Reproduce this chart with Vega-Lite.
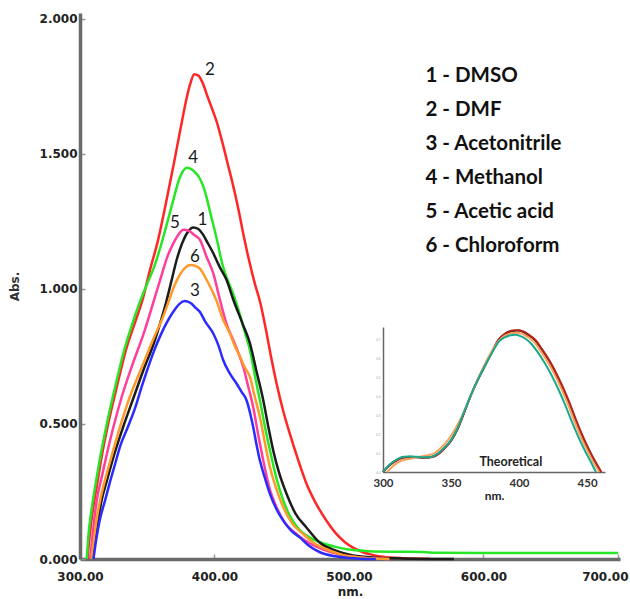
{
  "$schema": "https://vega.github.io/schema/vega-lite/v6.json",
  "width": 540,
  "height": 546,
  "autosize": {"type": "none"},
  "padding": {"left": 80, "top": 13, "right": 10, "bottom": 40},
  "background": "white",
  "config": {"view": {"stroke": null}, "axis": {"grid": false}},
  "datasets": {
    "spectra": [
      {"solvent": "2 - DMF", "nm": 305.5, "abs": 0}, {"solvent": "2 - DMF", "nm": 307.5, "abs": 0.1}, {"solvent": "2 - DMF", "nm": 309.5, "abs": 0.18}, {"solvent": "2 - DMF", "nm": 312.5, "abs": 0.27}, {"solvent": "2 - DMF", "nm": 316.5, "abs": 0.39}, {"solvent": "2 - DMF", "nm": 320.5, "abs": 0.49}, {"solvent": "2 - DMF", "nm": 327.5, "abs": 0.64}, {"solvent": "2 - DMF", "nm": 334.5, "abs": 0.78}, {"solvent": "2 - DMF", "nm": 340.5, "abs": 0.87}, {"solvent": "2 - DMF", "nm": 346.5, "abs": 0.96}, {"solvent": "2 - DMF", "nm": 352, "abs": 1.07}, {"solvent": "2 - DMF", "nm": 358, "abs": 1.18}, {"solvent": "2 - DMF", "nm": 364, "abs": 1.32}, {"solvent": "2 - DMF", "nm": 370, "abs": 1.47}, {"solvent": "2 - DMF", "nm": 375, "abs": 1.6}, {"solvent": "2 - DMF", "nm": 379, "abs": 1.7}, {"solvent": "2 - DMF", "nm": 382, "abs": 1.76}, {"solvent": "2 - DMF", "nm": 385, "abs": 1.795}, {"solvent": "2 - DMF", "nm": 388, "abs": 1.79}, {"solvent": "2 - DMF", "nm": 391, "abs": 1.765}, {"solvent": "2 - DMF", "nm": 395, "abs": 1.71}, {"solvent": "2 - DMF", "nm": 398, "abs": 1.67}, {"solvent": "2 - DMF", "nm": 401.6, "abs": 1.62}, {"solvent": "2 - DMF", "nm": 406, "abs": 1.54}, {"solvent": "2 - DMF", "nm": 410, "abs": 1.46}, {"solvent": "2 - DMF", "nm": 414, "abs": 1.38}, {"solvent": "2 - DMF", "nm": 418, "abs": 1.29}, {"solvent": "2 - DMF", "nm": 422, "abs": 1.19}, {"solvent": "2 - DMF", "nm": 426, "abs": 1.1}, {"solvent": "2 - DMF", "nm": 430, "abs": 1.02}, {"solvent": "2 - DMF", "nm": 434, "abs": 0.95}, {"solvent": "2 - DMF", "nm": 438.8, "abs": 0.835}, {"solvent": "2 - DMF", "nm": 442, "abs": 0.75}, {"solvent": "2 - DMF", "nm": 446.2, "abs": 0.649}, {"solvent": "2 - DMF", "nm": 451, "abs": 0.55}, {"solvent": "2 - DMF", "nm": 456, "abs": 0.464}, {"solvent": "2 - DMF", "nm": 462, "abs": 0.37}, {"solvent": "2 - DMF", "nm": 468.5, "abs": 0.278}, {"solvent": "2 - DMF", "nm": 475, "abs": 0.21}, {"solvent": "2 - DMF", "nm": 483.4, "abs": 0.141}, {"solvent": "2 - DMF", "nm": 490.8, "abs": 0.092}, {"solvent": "2 - DMF", "nm": 497, "abs": 0.062}, {"solvent": "2 - DMF", "nm": 503, "abs": 0.042}, {"solvent": "2 - DMF", "nm": 510, "abs": 0.026}, {"solvent": "2 - DMF", "nm": 516, "abs": 0.017}, {"solvent": "2 - DMF", "nm": 525, "abs": 0.008}, {"solvent": "2 - DMF", "nm": 540, "abs": 0.003}, {"solvent": "2 - DMF", "nm": 560, "abs": 0.001},

      {"solvent": "4 - Methanol", "nm": 305, "abs": 0}, {"solvent": "4 - Methanol", "nm": 306.5, "abs": 0.1}, {"solvent": "4 - Methanol", "nm": 308.5, "abs": 0.18}, {"solvent": "4 - Methanol", "nm": 311.5, "abs": 0.275}, {"solvent": "4 - Methanol", "nm": 315.5, "abs": 0.39}, {"solvent": "4 - Methanol", "nm": 319.5, "abs": 0.49}, {"solvent": "4 - Methanol", "nm": 326.5, "abs": 0.645}, {"solvent": "4 - Methanol", "nm": 333.5, "abs": 0.785}, {"solvent": "4 - Methanol", "nm": 339.5, "abs": 0.88}, {"solvent": "4 - Methanol", "nm": 345.5, "abs": 0.965}, {"solvent": "4 - Methanol", "nm": 350, "abs": 1.02}, {"solvent": "4 - Methanol", "nm": 355, "abs": 1.08}, {"solvent": "4 - Methanol", "nm": 359.5, "abs": 1.15}, {"solvent": "4 - Methanol", "nm": 364, "abs": 1.23}, {"solvent": "4 - Methanol", "nm": 369.4, "abs": 1.33}, {"solvent": "4 - Methanol", "nm": 374, "abs": 1.41}, {"solvent": "4 - Methanol", "nm": 377, "abs": 1.44}, {"solvent": "4 - Methanol", "nm": 379.5, "abs": 1.449}, {"solvent": "4 - Methanol", "nm": 382, "abs": 1.446}, {"solvent": "4 - Methanol", "nm": 386, "abs": 1.43}, {"solvent": "4 - Methanol", "nm": 389, "abs": 1.41}, {"solvent": "4 - Methanol", "nm": 393, "abs": 1.36}, {"solvent": "4 - Methanol", "nm": 397, "abs": 1.28}, {"solvent": "4 - Methanol", "nm": 401, "abs": 1.2}, {"solvent": "4 - Methanol", "nm": 406.5, "abs": 1.08}, {"solvent": "4 - Methanol", "nm": 410, "abs": 1.03}, {"solvent": "4 - Methanol", "nm": 414, "abs": 0.98}, {"solvent": "4 - Methanol", "nm": 418, "abs": 0.92}, {"solvent": "4 - Methanol", "nm": 422, "abs": 0.85}, {"solvent": "4 - Methanol", "nm": 426.4, "abs": 0.773}, {"solvent": "4 - Methanol", "nm": 430, "abs": 0.68}, {"solvent": "4 - Methanol", "nm": 433.8, "abs": 0.587}, {"solvent": "4 - Methanol", "nm": 437.5, "abs": 0.49}, {"solvent": "4 - Methanol", "nm": 441.3, "abs": 0.401}, {"solvent": "4 - Methanol", "nm": 446, "abs": 0.3}, {"solvent": "4 - Methanol", "nm": 451.2, "abs": 0.216}, {"solvent": "4 - Methanol", "nm": 456, "abs": 0.16}, {"solvent": "4 - Methanol", "nm": 462, "abs": 0.115}, {"solvent": "4 - Methanol", "nm": 471, "abs": 0.079}, {"solvent": "4 - Methanol", "nm": 478.4, "abs": 0.062}, {"solvent": "4 - Methanol", "nm": 490, "abs": 0.045}, {"solvent": "4 - Methanol", "nm": 503, "abs": 0.033}, {"solvent": "4 - Methanol", "nm": 515, "abs": 0.029}, {"solvent": "4 - Methanol", "nm": 535, "abs": 0.027}, {"solvent": "4 - Methanol", "nm": 555, "abs": 0.026}, {"solvent": "4 - Methanol", "nm": 565, "abs": 0.023}, {"solvent": "4 - Methanol", "nm": 600, "abs": 0.022}, {"solvent": "4 - Methanol", "nm": 650, "abs": 0.022}, {"solvent": "4 - Methanol", "nm": 700, "abs": 0.022},

      {"solvent": "1 - DMSO", "nm": 309.5, "abs": 0}, {"solvent": "1 - DMSO", "nm": 311.5, "abs": 0.08}, {"solvent": "1 - DMSO", "nm": 314, "abs": 0.16}, {"solvent": "1 - DMSO", "nm": 316, "abs": 0.216}, {"solvent": "1 - DMSO", "nm": 320, "abs": 0.29}, {"solvent": "1 - DMSO", "nm": 325, "abs": 0.38}, {"solvent": "1 - DMSO", "nm": 332, "abs": 0.488}, {"solvent": "1 - DMSO", "nm": 340, "abs": 0.6}, {"solvent": "1 - DMSO", "nm": 348, "abs": 0.711}, {"solvent": "1 - DMSO", "nm": 355, "abs": 0.8}, {"solvent": "1 - DMSO", "nm": 360, "abs": 0.88}, {"solvent": "1 - DMSO", "nm": 364, "abs": 0.95}, {"solvent": "1 - DMSO", "nm": 368, "abs": 1.03}, {"solvent": "1 - DMSO", "nm": 372, "abs": 1.11}, {"solvent": "1 - DMSO", "nm": 376, "abs": 1.17}, {"solvent": "1 - DMSO", "nm": 380, "abs": 1.21}, {"solvent": "1 - DMSO", "nm": 384.3, "abs": 1.228}, {"solvent": "1 - DMSO", "nm": 388, "abs": 1.222}, {"solvent": "1 - DMSO", "nm": 391, "abs": 1.205}, {"solvent": "1 - DMSO", "nm": 395, "abs": 1.17}, {"solvent": "1 - DMSO", "nm": 399, "abs": 1.133}, {"solvent": "1 - DMSO", "nm": 404, "abs": 1.08}, {"solvent": "1 - DMSO", "nm": 409, "abs": 1.033}, {"solvent": "1 - DMSO", "nm": 414, "abs": 0.96}, {"solvent": "1 - DMSO", "nm": 421, "abs": 0.87}, {"solvent": "1 - DMSO", "nm": 426.4, "abs": 0.798}, {"solvent": "1 - DMSO", "nm": 431, "abs": 0.7}, {"solvent": "1 - DMSO", "nm": 436.3, "abs": 0.587}, {"solvent": "1 - DMSO", "nm": 440, "abs": 0.49}, {"solvent": "1 - DMSO", "nm": 443.7, "abs": 0.401}, {"solvent": "1 - DMSO", "nm": 448, "abs": 0.32}, {"solvent": "1 - DMSO", "nm": 453.7, "abs": 0.24}, {"solvent": "1 - DMSO", "nm": 460, "abs": 0.17}, {"solvent": "1 - DMSO", "nm": 468.5, "abs": 0.116}, {"solvent": "1 - DMSO", "nm": 478.4, "abs": 0.06}, {"solvent": "1 - DMSO", "nm": 490.8, "abs": 0.03}, {"solvent": "1 - DMSO", "nm": 503, "abs": 0.013}, {"solvent": "1 - DMSO", "nm": 520, "abs": 0.005}, {"solvent": "1 - DMSO", "nm": 540, "abs": 0.002}, {"solvent": "1 - DMSO", "nm": 578, "abs": 0},

      {"solvent": "5 - Acetic acid", "nm": 307.5, "abs": 0}, {"solvent": "5 - Acetic acid", "nm": 309, "abs": 0.07}, {"solvent": "5 - Acetic acid", "nm": 310.5, "abs": 0.14}, {"solvent": "5 - Acetic acid", "nm": 312.4, "abs": 0.216}, {"solvent": "5 - Acetic acid", "nm": 316, "abs": 0.3}, {"solvent": "5 - Acetic acid", "nm": 320, "abs": 0.39}, {"solvent": "5 - Acetic acid", "nm": 324.8, "abs": 0.488}, {"solvent": "5 - Acetic acid", "nm": 331, "abs": 0.6}, {"solvent": "5 - Acetic acid", "nm": 339, "abs": 0.72}, {"solvent": "5 - Acetic acid", "nm": 347, "abs": 0.83}, {"solvent": "5 - Acetic acid", "nm": 354.5, "abs": 0.95}, {"solvent": "5 - Acetic acid", "nm": 360, "abs": 1.04}, {"solvent": "5 - Acetic acid", "nm": 365, "abs": 1.12}, {"solvent": "5 - Acetic acid", "nm": 369.5, "abs": 1.17}, {"solvent": "5 - Acetic acid", "nm": 373, "abs": 1.2}, {"solvent": "5 - Acetic acid", "nm": 377, "abs": 1.219}, {"solvent": "5 - Acetic acid", "nm": 381, "abs": 1.215}, {"solvent": "5 - Acetic acid", "nm": 385, "abs": 1.2}, {"solvent": "5 - Acetic acid", "nm": 389.2, "abs": 1.182}, {"solvent": "5 - Acetic acid", "nm": 394, "abs": 1.12}, {"solvent": "5 - Acetic acid", "nm": 399.1, "abs": 1.058}, {"solvent": "5 - Acetic acid", "nm": 404.1, "abs": 0.959}, {"solvent": "5 - Acetic acid", "nm": 409, "abs": 0.87}, {"solvent": "5 - Acetic acid", "nm": 414, "abs": 0.81}, {"solvent": "5 - Acetic acid", "nm": 418, "abs": 0.76}, {"solvent": "5 - Acetic acid", "nm": 421.4, "abs": 0.711}, {"solvent": "5 - Acetic acid", "nm": 425, "abs": 0.64}, {"solvent": "5 - Acetic acid", "nm": 428.8, "abs": 0.562}, {"solvent": "5 - Acetic acid", "nm": 432.5, "abs": 0.46}, {"solvent": "5 - Acetic acid", "nm": 436.3, "abs": 0.364}, {"solvent": "5 - Acetic acid", "nm": 441, "abs": 0.26}, {"solvent": "5 - Acetic acid", "nm": 446.2, "abs": 0.191}, {"solvent": "5 - Acetic acid", "nm": 453, "abs": 0.13}, {"solvent": "5 - Acetic acid", "nm": 461.1, "abs": 0.092}, {"solvent": "5 - Acetic acid", "nm": 470, "abs": 0.06}, {"solvent": "5 - Acetic acid", "nm": 480.9, "abs": 0.035}, {"solvent": "5 - Acetic acid", "nm": 495, "abs": 0.015}, {"solvent": "5 - Acetic acid", "nm": 510, "abs": 0.005}, {"solvent": "5 - Acetic acid", "nm": 530, "abs": 0},

      {"solvent": "6 - Chloroform", "nm": 308.5, "abs": 0}, {"solvent": "6 - Chloroform", "nm": 310.5, "abs": 0.08}, {"solvent": "6 - Chloroform", "nm": 312.5, "abs": 0.15}, {"solvent": "6 - Chloroform", "nm": 314.9, "abs": 0.216}, {"solvent": "6 - Chloroform", "nm": 319, "abs": 0.3}, {"solvent": "6 - Chloroform", "nm": 324, "abs": 0.39}, {"solvent": "6 - Chloroform", "nm": 329.7, "abs": 0.488}, {"solvent": "6 - Chloroform", "nm": 337, "abs": 0.6}, {"solvent": "6 - Chloroform", "nm": 346, "abs": 0.711}, {"solvent": "6 - Chloroform", "nm": 355, "abs": 0.82}, {"solvent": "6 - Chloroform", "nm": 362, "abs": 0.9}, {"solvent": "6 - Chloroform", "nm": 366, "abs": 0.955}, {"solvent": "6 - Chloroform", "nm": 370, "abs": 1.01}, {"solvent": "6 - Chloroform", "nm": 374, "abs": 1.05}, {"solvent": "6 - Chloroform", "nm": 378, "abs": 1.078}, {"solvent": "6 - Chloroform", "nm": 381.8, "abs": 1.089}, {"solvent": "6 - Chloroform", "nm": 385, "abs": 1.087}, {"solvent": "6 - Chloroform", "nm": 389.2, "abs": 1.075}, {"solvent": "6 - Chloroform", "nm": 394, "abs": 1.035}, {"solvent": "6 - Chloroform", "nm": 399.1, "abs": 0.984}, {"solvent": "6 - Chloroform", "nm": 401.6, "abs": 0.955}, {"solvent": "6 - Chloroform", "nm": 406.5, "abs": 0.885}, {"solvent": "6 - Chloroform", "nm": 411.5, "abs": 0.835}, {"solvent": "6 - Chloroform", "nm": 415, "abs": 0.79}, {"solvent": "6 - Chloroform", "nm": 419, "abs": 0.749}, {"solvent": "6 - Chloroform", "nm": 422.5, "abs": 0.71}, {"solvent": "6 - Chloroform", "nm": 426.4, "abs": 0.674}, {"solvent": "6 - Chloroform", "nm": 430, "abs": 0.6}, {"solvent": "6 - Chloroform", "nm": 433.8, "abs": 0.525}, {"solvent": "6 - Chloroform", "nm": 437.5, "abs": 0.43}, {"solvent": "6 - Chloroform", "nm": 441.3, "abs": 0.339}, {"solvent": "6 - Chloroform", "nm": 446, "abs": 0.26}, {"solvent": "6 - Chloroform", "nm": 451.2, "abs": 0.191}, {"solvent": "6 - Chloroform", "nm": 458, "abs": 0.13}, {"solvent": "6 - Chloroform", "nm": 466, "abs": 0.092}, {"solvent": "6 - Chloroform", "nm": 475, "abs": 0.055}, {"solvent": "6 - Chloroform", "nm": 483.4, "abs": 0.036}, {"solvent": "6 - Chloroform", "nm": 495, "abs": 0.015}, {"solvent": "6 - Chloroform", "nm": 510, "abs": 0.005}, {"solvent": "6 - Chloroform", "nm": 530, "abs": 0},

      {"solvent": "3 - Acetonitrile", "nm": 310, "abs": 0}, {"solvent": "3 - Acetonitrile", "nm": 312, "abs": 0.07}, {"solvent": "3 - Acetonitrile", "nm": 314.5, "abs": 0.14}, {"solvent": "3 - Acetonitrile", "nm": 318.6, "abs": 0.216}, {"solvent": "3 - Acetonitrile", "nm": 322, "abs": 0.28}, {"solvent": "3 - Acetonitrile", "nm": 326, "abs": 0.35}, {"solvent": "3 - Acetonitrile", "nm": 330, "abs": 0.42}, {"solvent": "3 - Acetonitrile", "nm": 335.5, "abs": 0.488}, {"solvent": "3 - Acetonitrile", "nm": 341, "abs": 0.56}, {"solvent": "3 - Acetonitrile", "nm": 346, "abs": 0.64}, {"solvent": "3 - Acetonitrile", "nm": 350, "abs": 0.7}, {"solvent": "3 - Acetonitrile", "nm": 355, "abs": 0.77}, {"solvent": "3 - Acetonitrile", "nm": 360, "abs": 0.83}, {"solvent": "3 - Acetonitrile", "nm": 365, "abs": 0.88}, {"solvent": "3 - Acetonitrile", "nm": 370, "abs": 0.92}, {"solvent": "3 - Acetonitrile", "nm": 374, "abs": 0.945}, {"solvent": "3 - Acetonitrile", "nm": 378, "abs": 0.955}, {"solvent": "3 - Acetonitrile", "nm": 380, "abs": 0.953}, {"solvent": "3 - Acetonitrile", "nm": 383, "abs": 0.945}, {"solvent": "3 - Acetonitrile", "nm": 386, "abs": 0.93}, {"solvent": "3 - Acetonitrile", "nm": 389.2, "abs": 0.915}, {"solvent": "3 - Acetonitrile", "nm": 393, "abs": 0.88}, {"solvent": "3 - Acetonitrile", "nm": 399.1, "abs": 0.835}, {"solvent": "3 - Acetonitrile", "nm": 403, "abs": 0.79}, {"solvent": "3 - Acetonitrile", "nm": 406.5, "abs": 0.736}, {"solvent": "3 - Acetonitrile", "nm": 411, "abs": 0.69}, {"solvent": "3 - Acetonitrile", "nm": 416.5, "abs": 0.649}, {"solvent": "3 - Acetonitrile", "nm": 420, "abs": 0.62}, {"solvent": "3 - Acetonitrile", "nm": 423.9, "abs": 0.587}, {"solvent": "3 - Acetonitrile", "nm": 426.5, "abs": 0.54}, {"solvent": "3 - Acetonitrile", "nm": 428.8, "abs": 0.488}, {"solvent": "3 - Acetonitrile", "nm": 431, "abs": 0.43}, {"solvent": "3 - Acetonitrile", "nm": 433.8, "abs": 0.364}, {"solvent": "3 - Acetonitrile", "nm": 437.5, "abs": 0.3}, {"solvent": "3 - Acetonitrile", "nm": 441.3, "abs": 0.24}, {"solvent": "3 - Acetonitrile", "nm": 446, "abs": 0.185}, {"solvent": "3 - Acetonitrile", "nm": 451.2, "abs": 0.141}, {"solvent": "3 - Acetonitrile", "nm": 457, "abs": 0.105}, {"solvent": "3 - Acetonitrile", "nm": 463.6, "abs": 0.079}, {"solvent": "3 - Acetonitrile", "nm": 470, "abs": 0.05}, {"solvent": "3 - Acetonitrile", "nm": 478.4, "abs": 0.025}, {"solvent": "3 - Acetonitrile", "nm": 490, "abs": 0.01}, {"solvent": "3 - Acetonitrile", "nm": 500, "abs": 0.004}, {"solvent": "3 - Acetonitrile", "nm": 520, "abs": 0}
    ],
    "tags": [
      {"tag": "2", "nm": 396.7, "abs": 1.811},
      {"tag": "4", "nm": 384.2, "abs": 1.484},
      {"tag": "5", "nm": 370.6, "abs": 1.246},
      {"tag": "1", "nm": 391.0, "abs": 1.256},
      {"tag": "6", "nm": 385.5, "abs": 1.117},
      {"tag": "3", "nm": 385.5, "abs": 0.994}
    ],
    "theory": [
      {"series": "A", "nm": 300, "value": 0}, {"series": "A", "nm": 305, "value": 0.038}, {"series": "A", "nm": 310, "value": 0.063}, {"series": "A", "nm": 315, "value": 0.078}, {"series": "A", "nm": 320, "value": 0.08}, {"series": "A", "nm": 325, "value": 0.078}, {"series": "A", "nm": 330, "value": 0.076}, {"series": "A", "nm": 335, "value": 0.078}, {"series": "A", "nm": 340, "value": 0.093}, {"series": "A", "nm": 345, "value": 0.125}, {"series": "A", "nm": 350, "value": 0.165}, {"series": "A", "nm": 355, "value": 0.23}, {"series": "A", "nm": 360, "value": 0.32}, {"series": "A", "nm": 365, "value": 0.41}, {"series": "A", "nm": 370, "value": 0.49}, {"series": "A", "nm": 375, "value": 0.56}, {"series": "A", "nm": 380, "value": 0.63}, {"series": "A", "nm": 385, "value": 0.695}, {"series": "A", "nm": 390, "value": 0.727}, {"series": "A", "nm": 395, "value": 0.742}, {"series": "A", "nm": 399, "value": 0.745}, {"series": "A", "nm": 403, "value": 0.738}, {"series": "A", "nm": 407, "value": 0.72}, {"series": "A", "nm": 412, "value": 0.692}, {"series": "A", "nm": 417, "value": 0.64}, {"series": "A", "nm": 422, "value": 0.586}, {"series": "A", "nm": 427, "value": 0.52}, {"series": "A", "nm": 432, "value": 0.444}, {"series": "A", "nm": 437, "value": 0.36}, {"series": "A", "nm": 442, "value": 0.266}, {"series": "A", "nm": 447, "value": 0.18}, {"series": "A", "nm": 452, "value": 0.106}, {"series": "A", "nm": 456, "value": 0.05}, {"series": "A", "nm": 460, "value": 0},
      {"series": "B", "nm": 300, "value": 0}, {"series": "B", "nm": 305, "value": 0.036}, {"series": "B", "nm": 310, "value": 0.06}, {"series": "B", "nm": 315, "value": 0.075}, {"series": "B", "nm": 320, "value": 0.078}, {"series": "B", "nm": 325, "value": 0.077}, {"series": "B", "nm": 330, "value": 0.075}, {"series": "B", "nm": 335, "value": 0.077}, {"series": "B", "nm": 340, "value": 0.09}, {"series": "B", "nm": 345, "value": 0.122}, {"series": "B", "nm": 350, "value": 0.163}, {"series": "B", "nm": 355, "value": 0.228}, {"series": "B", "nm": 360, "value": 0.318}, {"series": "B", "nm": 365, "value": 0.41}, {"series": "B", "nm": 370, "value": 0.49}, {"series": "B", "nm": 375, "value": 0.56}, {"series": "B", "nm": 380, "value": 0.632}, {"series": "B", "nm": 385, "value": 0.697}, {"series": "B", "nm": 390, "value": 0.73}, {"series": "B", "nm": 395, "value": 0.744}, {"series": "B", "nm": 399, "value": 0.746}, {"series": "B", "nm": 403, "value": 0.74}, {"series": "B", "nm": 407, "value": 0.723}, {"series": "B", "nm": 412, "value": 0.695}, {"series": "B", "nm": 417, "value": 0.645}, {"series": "B", "nm": 422, "value": 0.59}, {"series": "B", "nm": 427, "value": 0.525}, {"series": "B", "nm": 432, "value": 0.45}, {"series": "B", "nm": 437, "value": 0.366}, {"series": "B", "nm": 442, "value": 0.272}, {"series": "B", "nm": 447, "value": 0.186}, {"series": "B", "nm": 452, "value": 0.11}, {"series": "B", "nm": 456.5, "value": 0.05}, {"series": "B", "nm": 460.5, "value": 0},
      {"series": "C", "nm": 303, "value": 0}, {"series": "C", "nm": 308, "value": 0.035}, {"series": "C", "nm": 313, "value": 0.058}, {"series": "C", "nm": 320, "value": 0.07}, {"series": "C", "nm": 327, "value": 0.08}, {"series": "C", "nm": 333, "value": 0.088}, {"series": "C", "nm": 338, "value": 0.1}, {"series": "C", "nm": 343, "value": 0.13}, {"series": "C", "nm": 348, "value": 0.17}, {"series": "C", "nm": 353, "value": 0.225}, {"series": "C", "nm": 358, "value": 0.295}, {"series": "C", "nm": 363, "value": 0.375}, {"series": "C", "nm": 368, "value": 0.46}, {"series": "C", "nm": 373, "value": 0.54}, {"series": "C", "nm": 378, "value": 0.61}, {"series": "C", "nm": 383, "value": 0.67}, {"series": "C", "nm": 388, "value": 0.71}, {"series": "C", "nm": 393, "value": 0.728}, {"series": "C", "nm": 398, "value": 0.733}, {"series": "C", "nm": 402, "value": 0.728}, {"series": "C", "nm": 406, "value": 0.712}, {"series": "C", "nm": 411, "value": 0.685}, {"series": "C", "nm": 416, "value": 0.635}, {"series": "C", "nm": 421, "value": 0.58}, {"series": "C", "nm": 426, "value": 0.515}, {"series": "C", "nm": 431, "value": 0.44}, {"series": "C", "nm": 436, "value": 0.356}, {"series": "C", "nm": 441, "value": 0.262}, {"series": "C", "nm": 446, "value": 0.176}, {"series": "C", "nm": 451, "value": 0.102}, {"series": "C", "nm": 455, "value": 0.048}, {"series": "C", "nm": 459, "value": 0},
      {"series": "D", "nm": 300, "value": 0}, {"series": "D", "nm": 305, "value": 0.04}, {"series": "D", "nm": 310, "value": 0.065}, {"series": "D", "nm": 315, "value": 0.08}, {"series": "D", "nm": 320, "value": 0.082}, {"series": "D", "nm": 325, "value": 0.08}, {"series": "D", "nm": 330, "value": 0.077}, {"series": "D", "nm": 335, "value": 0.079}, {"series": "D", "nm": 340, "value": 0.095}, {"series": "D", "nm": 345, "value": 0.127}, {"series": "D", "nm": 350, "value": 0.168}, {"series": "D", "nm": 355, "value": 0.233}, {"series": "D", "nm": 360, "value": 0.323}, {"series": "D", "nm": 365, "value": 0.412}, {"series": "D", "nm": 370, "value": 0.49}, {"series": "D", "nm": 375, "value": 0.56}, {"series": "D", "nm": 380, "value": 0.625}, {"series": "D", "nm": 385, "value": 0.685}, {"series": "D", "nm": 390, "value": 0.71}, {"series": "D", "nm": 394, "value": 0.72}, {"series": "D", "nm": 397, "value": 0.722}, {"series": "D", "nm": 401, "value": 0.715}, {"series": "D", "nm": 405, "value": 0.7}, {"series": "D", "nm": 409, "value": 0.675}, {"series": "D", "nm": 414, "value": 0.628}, {"series": "D", "nm": 419, "value": 0.572}, {"series": "D", "nm": 424, "value": 0.508}, {"series": "D", "nm": 429, "value": 0.434}, {"series": "D", "nm": 434, "value": 0.352}, {"series": "D", "nm": 439, "value": 0.262}, {"series": "D", "nm": 444, "value": 0.178}, {"series": "D", "nm": 449, "value": 0.104}, {"series": "D", "nm": 453, "value": 0.05}, {"series": "D", "nm": 456.5, "value": 0}
    ],
    "theoryNote": [
      {"note": "Theoretical", "nm": 394, "value": 0.05}
    ]
  },
  "layer": [
    {
      "layer": [
        {
          "data": {"name": "spectra"},
          "mark": {"type": "line", "strokeWidth": 2.5, "interpolate": "monotone"},
          "encoding": {
            "x": {
              "field": "nm", "type": "quantitative",
              "scale": {"domain": [300, 701.5], "nice": false, "zero": false},
              "axis": {
                "orient": "bottom", "values": [300, 400, 500, 600, 700], "format": ".2f",
                "labelFont": "DejaVu Sans", "labelFontWeight": "bold", "labelFontSize": 12, "labelColor": "#222",
                "labelPadding": 17, "labelFlush": false, "labelOverlap": false,
                "labelAlign": {"condition": {"test": "datum.value >= 700", "value": "right"}, "value": "center"},
                "labelOffset": {"condition": {"test": "datum.value >= 700", "value": 10}, "value": 0},
                "domainColor": "#6a6a6a", "domainWidth": 3.5,
                "tickColor": "#9a9a9a", "tickWidth": 1.5, "tickSize": -5,
                "title": "nm.", "titleFont": "DejaVu Sans", "titleFontSize": 12, "titleFontWeight": "bold",
                "titleColor": "#222", "titlePadding": 4
              }
            },
            "y": {
              "field": "abs", "type": "quantitative",
              "scale": {"domain": [0, 2.022], "nice": false},
              "axis": {
                "orient": "left", "values": [0, 0.5, 1, 1.5, 2], "format": ".3f",
                "labelFont": "DejaVu Sans", "labelFontWeight": "bold", "labelFontSize": 12, "labelColor": "#222",
                "labelPadding": 8, "labelOverlap": false, "labelFlush": false,
                "domainColor": "#6a6a6a", "domainWidth": 3.5,
                "tickColor": "#9a9a9a", "tickWidth": 1.5, "tickSize": -5,
                "title": "Abs.", "titleFont": "DejaVu Sans", "titleFontSize": 12, "titleFontWeight": "bold",
                "titleColor": "#333", "titlePadding": 18
              }
            },
            "color": {
              "field": "solvent", "type": "nominal",
              "scale": {
                "domain": ["1 - DMSO", "2 - DMF", "3 - Acetonitrile", "4 - Methanol", "5 - Acetic acid", "6 - Chloroform"],
                "range": ["#1c1c1c", "#ff2626", "#2b2bff", "#26e626", "#ff3d9a", "#ff9a2a"]
              },
              "legend": {
                "orient": "none", "legendX": 325, "legendY": 53, "title": null,
                "labelFont": "Lato", "labelFontSize": 20.5, "labelFontWeight": "bold", "labelColor": "#111",
                "symbolOpacity": 0, "symbolSize": 0, "symbolStrokeWidth": 0, "labelOffset": 0,
                "rowPadding": 13
              }
            }
          }
        },
        {
          "data": {"name": "tags"},
          "mark": {"type": "text", "font": "Lato", "fontSize": 17, "color": "#1a1a1a", "align": "center", "baseline": "middle"},
          "encoding": {
            "x": {"field": "nm", "type": "quantitative"},
            "y": {"field": "abs", "type": "quantitative"},
            "text": {"field": "tag"}
          }
        }
      ]
    },
    {
      "layer": [
        {
          "data": {"name": "theory"},
          "mark": {"type": "line", "strokeWidth": 2, "interpolate": "monotone"},
          "encoding": {
            "x": {
              "field": "nm", "type": "quantitative",
              "scale": {"domain": [300, 463.2], "range": [303, 525], "nice": false, "zero": false},
              "axis": {
                "orient": "bottom", "offset": -87, "values": [300, 350, 400, 450], "format": "d",
                "labelFont": "Lato", "labelFontWeight": "bold", "labelFontSize": 11.5, "labelColor": "#333",
                "labelPadding": 5, "labelFlush": false, "ticks": false, "domainColor": "#666", "domainWidth": 1.5,
                "title": "nm.", "titleFont": "Lato", "titleFontWeight": "bold", "titleFontSize": 12,
                "titleColor": "#222", "titlePadding": 2
              }
            },
            "y": {
              "field": "value", "type": "quantitative",
              "scale": {"domain": [0, 0.763], "range": [459, 314], "nice": false},
              "axis": {
                "orient": "left", "offset": -303, "values": [0, 0.1, 0.2, 0.3, 0.4, 0.5, 0.6, 0.7], "format": ".1f",
                "labelFontSize": 3, "labelColor": "#999", "labelPadding": 3, "labelFlush": false, "ticks": false,
                "domainColor": "#666", "domainWidth": 1.5, "title": null
              }
            },
            "color": {
              "field": "series", "type": "nominal",
              "scale": {"domain": ["D", "C", "B", "A"], "range": ["#1aa88c", "#f7a05a", "#b8231d", "#1a1a1a"]},
              "legend": null
            }
          }
        },
        {
          "data": {"name": "theoryNote"},
          "mark": {"type": "text", "font": "Lato", "fontSize": 12.5, "fontWeight": "bold", "color": "#222", "align": "center", "baseline": "middle"},
          "encoding": {
            "x": {"field": "nm", "type": "quantitative"},
            "y": {"field": "value", "type": "quantitative"},
            "text": {"field": "note"}
          }
        }
      ]
    }
  ],
  "resolve": {
    "scale": {"x": "independent", "y": "independent", "color": "independent"},
    "axis": {"x": "independent", "y": "independent"},
    "legend": {"color": "independent"}
  }
}
